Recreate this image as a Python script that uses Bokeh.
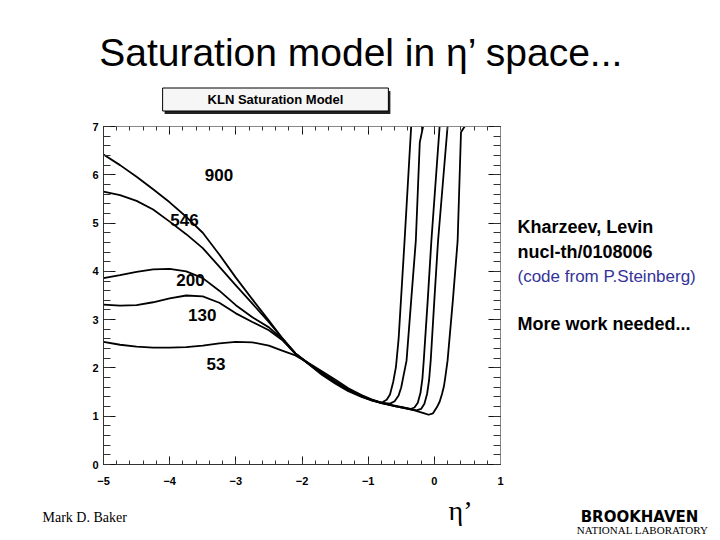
from bokeh.plotting import figure
from bokeh.models import Range1d, LinearAxis, SingleIntervalTicker, Label
from bokeh.embed import file_html
from bokeh.resources import INLINE

# ---------------- data ----------------
eta_900 = [-5, -4.75, -4.5, -4.25, -4, -3.75, -3.5, -3.25, -3, -2.75, -2.5, -2.3, -2.1, -1.9,
           -1.7, -1.5, -1.3, -1.1, -0.95, -0.8, -0.72, -0.67, -0.62, -0.58, -0.54, -0.45, -0.35]
dn_900 = [6.42, 6.20, 5.96, 5.70, 5.43, 5.13, 4.80, 4.35, 3.87, 3.42, 2.98, 2.62, 2.30, 2.08,
          1.86, 1.68, 1.52, 1.40, 1.33, 1.28, 1.34, 1.45, 1.72, 2.02, 2.60, 4.63, 7.0]

eta_546 = [-5, -4.75, -4.5, -4.25, -4, -3.75, -3.5, -3.25, -3, -2.75, -2.5, -2.3, -2.1, -1.9,
           -1.7, -1.5, -1.3, -1.1, -0.95, -0.8, -0.67, -0.6, -0.54, -0.5, -0.47, -0.42, -0.35,
           -0.28, -0.22, -0.17]
dn_546 = [5.65, 5.58, 5.46, 5.28, 5.03, 4.77, 4.48, 4.10, 3.71, 3.33, 2.95, 2.62, 2.30, 2.08,
          1.88, 1.70, 1.54, 1.41, 1.34, 1.28, 1.26, 1.31, 1.43, 1.60, 1.81, 2.15, 3.40,
          4.63, 6.67, 7.0]

eta_200 = [-5, -4.75, -4.5, -4.25, -4, -3.75, -3.5, -3.25, -3, -2.75, -2.5, -2.3, -2.1, -1.9,
           -1.7, -1.5, -1.3, -1.1, -0.95, -0.8, -0.6, -0.45, -0.36, -0.3, -0.25, -0.21, -0.18,
           -0.16, -0.1, -0.045, 0.08]
dn_200 = [3.86, 3.92, 3.99, 4.04, 4.05, 4.00, 3.86, 3.60, 3.30, 3.05, 2.84, 2.60, 2.30, 2.09,
          1.90, 1.72, 1.55, 1.42, 1.34, 1.27, 1.22, 1.18, 1.15, 1.18, 1.28, 1.48, 1.78,
          2.15, 3.40, 4.63, 7.0]

eta_130 = [-5, -4.75, -4.5, -4.25, -4, -3.75, -3.5, -3.25, -3, -2.75, -2.5, -2.3, -2.1, -1.9,
           -1.7, -1.5, -1.3, -1.1, -0.95, -0.8, -0.6, -0.45, -0.27, -0.2, -0.15, -0.11, -0.08,
           -0.055, 0.0, 0.056, 0.2]
dn_130 = [3.31, 3.29, 3.30, 3.36, 3.44, 3.50, 3.48, 3.35, 3.13, 2.95, 2.78, 2.58, 2.29, 2.09,
          1.90, 1.72, 1.55, 1.41, 1.33, 1.27, 1.21, 1.17, 1.12, 1.15, 1.26, 1.46, 1.74,
          2.15, 3.40, 4.63, 7.0]

eta_53 = [-5, -4.75, -4.5, -4.25, -4, -3.75, -3.5, -3.25, -3, -2.75, -2.5, -2.3, -2.1, -1.9,
          -1.7, -1.5, -1.3, -1.1, -0.95, -0.8, -0.6, -0.45, -0.3, -0.15, -0.086, -0.02, 0.04,
          0.08, 0.116, 0.145, 0.166, 0.2, 0.28, 0.352, 0.403, 0.458]
dn_53 = [2.54, 2.48, 2.44, 2.42, 2.42, 2.43, 2.46, 2.51, 2.54, 2.53, 2.46, 2.36, 2.26, 2.10,
         1.93, 1.76, 1.58, 1.44, 1.35, 1.28, 1.21, 1.17, 1.12, 1.06, 1.03, 1.06, 1.19,
         1.30, 1.46, 1.62, 1.81, 2.15, 3.40, 4.63, 6.88, 7.0]

curve_names = ["900", "546", "200", "130", "53"]
name_eta = [-3.255, -3.776, -3.685, -3.508, -3.30]
name_dn = [6.00, 5.07, 3.82, 3.09, 2.09]

x_lo, x_hi = -5, 1
y_lo, y_hi = 0, 7

title_text = "Saturation model in \u03b7\u2019 space..."
box_text = "KLN Saturation Model"
note_lines = ["Kharzeev, Levin", "nucl-th/0108006", "(code from P.Steinberg)", "More work needed..."]
author_text = "Mark D. Baker"
xlabel_text = "\u03b7\u2019"
logo_top = "BROOKHAVEN"
logo_bottom = "NATIONAL LABORATORY"

# ---------------- figure: the frame covers the whole slide ----------------
W, H = 720, 540
plot_left, plot_right, plot_top, plot_bottom = 103, 500, 126, 464   # slide pixels
sx_unit = (plot_right - plot_left) / (x_hi - x_lo)
sy_unit = (plot_bottom - plot_top) / (y_hi - y_lo)
xr = Range1d(x_lo - plot_left / sx_unit, x_hi + (W - plot_right) / sx_unit)
yr = Range1d(y_lo - (H - plot_bottom) / sy_unit, y_hi + plot_top / sy_unit)

p = figure(width=W, height=H, output_backend="svg", toolbar_location=None,
           x_range=xr, y_range=yr, x_axis_type=None, y_axis_type=None,
           min_border=0, min_border_left=0, min_border_right=0,
           min_border_top=0, min_border_bottom=0)
p.outline_line_color = None
p.background_fill_color = "white"
p.border_fill_color = "white"


def make_axis(show_labels, line_color, tick_major, tick_minor, standoff, loc, bounds):
    ax = LinearAxis(ticker=SingleIntervalTicker(interval=1, num_minor_ticks=5),
                    fixed_location=loc, bounds=bounds)
    ax.axis_line_color = line_color
    ax.axis_line_width = 1
    ax.major_tick_in = tick_major
    ax.major_tick_out = 0
    ax.minor_tick_in = tick_minor
    ax.minor_tick_out = 0
    ax.major_tick_line_color = "#111111"
    ax.minor_tick_line_color = "#333333"
    ax.major_label_standoff = standoff
    if show_labels:
        ax.major_label_text_font = "Liberation Sans"
        ax.major_label_text_font_size = "11px"
        ax.major_label_text_font_style = "bold"
        ax.major_label_text_color = "black"
    else:
        ax.major_label_text_font_size = "0px"
        ax.major_label_text_color = None
    return ax


p.add_layout(make_axis(True, "#333333", 8, 4, 12, y_lo, (x_lo, x_hi)), "below")
p.add_layout(make_axis(True, "#333333", 12, 7, 5, x_lo, (y_lo, y_hi)), "left")
p.add_layout(make_axis(False, "#888888", 8, 4, 0, y_hi, (x_lo, x_hi)), "above")
p.add_layout(make_axis(False, "#888888", 12, 7, 0, x_hi, (y_lo, y_hi)), "right")

series = [(eta_900, dn_900), (eta_546, dn_546), (eta_200, dn_200), (eta_130, dn_130), (eta_53, dn_53)]
for xs, ys in series:
    p.line(xs, ys, line_color="black", line_width=1.8, line_join="round")

for name, nx, ny in zip(curve_names, name_eta, name_dn):
    p.add_layout(Label(x=nx, y=ny, text=name, text_align="center", text_baseline="middle",
                       text_font="Liberation Sans", text_font_size="17px", text_font_style="bold",
                       text_color="black"))


# screen units: origin at the bottom-left corner of the slide
def screen_label(x, y, text, size, font="Liberation Sans", style="normal", color="black",
                 align="left", baseline="middle", **kw):
    lab = Label(x=x, y=y, x_units="screen", y_units="screen", text=text,
                text_font=font, text_font_size=size, text_font_style=style,
                text_color=color, text_align=align, text_baseline=baseline, **kw)
    p.add_layout(lab)
    return lab


# title
screen_label(361, 487.7, title_text, "39px", align="center")

# KLN box (shadow + box)
screen_label(277, 438, box_text, "13px", style="bold", align="center", color="#222222",
             background_fill_color="#222222", padding=(45, 4))
screen_label(275, 441, box_text, "13px", style="bold", align="center",
             background_fill_color="#f6f6f6", border_line_color="black", border_line_width=1,
             padding=(45, 4))

# notes on the right
screen_label(517, 314, note_lines[0], "18px", style="bold")
screen_label(517, 289, note_lines[1], "18px", style="bold")
screen_label(517, 264, note_lines[2], "17px", color="#333399")
screen_label(517, 217, note_lines[3], "18px", style="bold")

# bottom row
screen_label(42, 23, author_text, "14px", font="Liberation Serif")
screen_label(460, 30, xlabel_text, "28px", font="Liberation Serif", align="center")
screen_label(639, 24, logo_top, "15px", font="DejaVu Sans", style="bold", align="center")
screen_label(642, 11, logo_bottom, "11px", font="Liberation Serif", align="center")

open("out.html", "w").write(file_html(p, INLINE))
